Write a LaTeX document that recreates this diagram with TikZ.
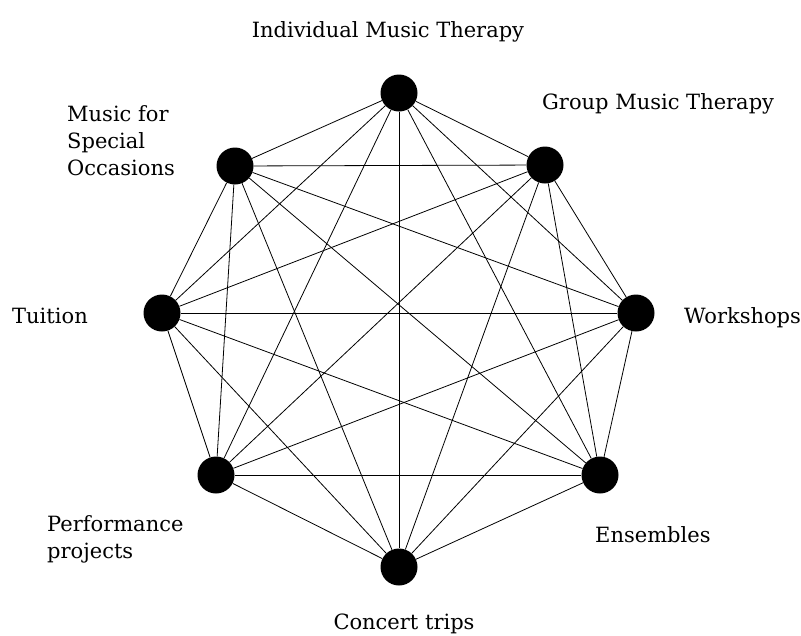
\documentclass[tikz,border=0pt]{standalone}
\usepackage{fontspec}
\setmainfont{DejaVu Serif}
\begin{document}
\begin{tikzpicture}[x=1pt,y=-1pt,
    dot/.style={circle,fill=black,inner sep=0pt,minimum size=37pt},
    lab/.style={inner sep=0pt,font=\fontsize{21pt}{27pt}\selectfont,align=left}]
    \useasboundingbox (0,0) rectangle (801,635);
    % the eight activities
    \node[dot] (v1) at (399,93) {};
    \node[dot] (v2) at (545,165) {};
    \node[dot] (v3) at (636,313) {};
    \node[dot] (v4) at (600,475) {};
    \node[dot] (v5) at (399,567) {};
    \node[dot] (v6) at (216,475) {};
    \node[dot] (v7) at (162,313) {};
    \node[dot] (v8) at (235,166) {};
    % every pair is joined
    \foreach \i in {1,...,7} {
      \pgfmathtruncatemacro\k{\i+1}
      \foreach \j in {\k,...,8}
        \draw[line width=0.8pt] (v\i) -- (v\j);
    }
    \node[lab,anchor=base] (l1) at (388,37) {Individual Music Therapy};
    \node[lab,anchor=base west] (l2) at (542,109) {Group Music Therapy};
    \node[lab,anchor=base west] (l3) at (684,323) {Workshops};
    \node[lab,anchor=base west] (l4) at (595,542) {Ensembles};
    \node[lab,anchor=base] (l5) at (404,629) {Concert trips};
    \node[lab,anchor=base west] (l6) at (47,558) {Performance\\projects};
    \node[lab,anchor=base west] (l7) at (12,323) {Tuition};
    \node[lab,anchor=base west] (l8) at (67,175) {Music for\\Special\\Occasions};
\end{tikzpicture}
\end{document}
